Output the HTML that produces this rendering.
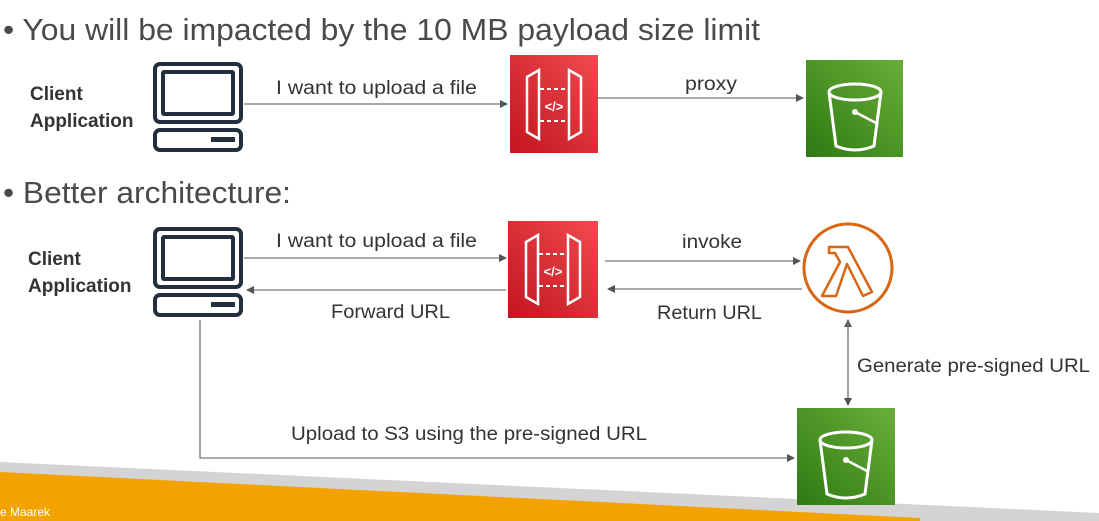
<!DOCTYPE html>
<html><head><meta charset="utf-8"><style>
body{margin:0;background:#fff;}
svg{display:block;font-family:"Liberation Sans",sans-serif;}
</style></head><body>
<svg width="1099" height="521" viewBox="0 0 1099 521" xmlns="http://www.w3.org/2000/svg">
<defs>
<marker id="ah" markerWidth="8" markerHeight="8" refX="7" refY="4" orient="auto" markerUnits="userSpaceOnUse"><path d="M0,0 L8,4 L0,8 z" fill="#555"/></marker>
<linearGradient id="red" x1="1" y1="0" x2="0" y2="1"><stop offset="0" stop-color="#f04a50"/><stop offset="1" stop-color="#c3151f"/></linearGradient>
<linearGradient id="grn" x1="1" y1="0" x2="0" y2="1"><stop offset="0" stop-color="#6aae3a"/><stop offset="1" stop-color="#2e7a12"/></linearGradient>
<g id="pc" fill="none" stroke="#232f3e" stroke-width="4">
<rect x="2" y="2" width="86" height="58" rx="5"/><rect x="10" y="10" width="70" height="42" rx="1"/>
<rect x="2" y="68" width="86" height="20" rx="5"/><rect x="58" y="75" width="24" height="5" fill="#232f3e" stroke="none"/>
</g>
<g id="api">
<path d="M18,22 L30,15 L30,84 L18,77 Z M72,22 L60,15 L60,84 L72,77 Z" fill="none" stroke="#fff" stroke-width="2.5"/>
<path d="M31,34 H59 M31,66 H59" stroke="#fff" stroke-width="2" stroke-dasharray="4,3"/>
<text x="45" y="56" font-size="13" fill="#fff" text-anchor="middle" font-weight="bold">&lt;/&gt;</text>
</g>
<g id="bucket" fill="none" stroke="#fff" stroke-width="3">
<ellipse cx="49" cy="30" rx="26" ry="8"/>
<path d="M23,30 L30,84 Q49,92 68,84 L75,30"/>
<path d="M49,50 L72,62" stroke-width="2.5"/><circle cx="49" cy="50" r="3" fill="#fff" stroke="none"/>
</g>
</defs>
<rect width="1099" height="521" fill="#fff"/>
<polygon points="0,462 1099,513 1099,521 0,521" fill="#d4d4d4"/>
<polygon points="0,472 920,518 920,521 0,521" fill="#f2a300"/>
<text x="0" y="516" font-size="12" fill="#fff">e Maarek</text>

<text x="3" y="40" font-size="31" fill="#4a4a4a" textLength="757" lengthAdjust="spacingAndGlyphs">• You will be impacted by the 10 MB payload size limit</text>
<text x="3" y="203" font-size="31" fill="#4a4a4a" textLength="288" lengthAdjust="spacingAndGlyphs">• Better architecture:</text>

<g font-weight="bold" font-size="19" fill="#333">
<text x="30" y="100">Client</text><text x="30" y="127">Application</text>
<text x="28" y="265">Client</text><text x="28" y="292">Application</text>
</g>

<use href="#pc" x="153" y="62"/>
<use href="#pc" x="153" y="227"/>

<rect x="510" y="55" width="88" height="98" fill="url(#red)"/><use href="#api" x="509" y="55"/>
<rect x="508" y="221" width="90" height="97" fill="url(#red)"/><use href="#api" x="508" y="220"/>
<rect x="806" y="60" width="97" height="97" fill="url(#grn)"/><use href="#bucket" x="806" y="62"/>
<rect x="797" y="408" width="98" height="97" fill="url(#grn)"/><use href="#bucket" x="797" y="410"/>

<circle cx="848" cy="268" r="44" fill="none" stroke="#d86613" stroke-width="3"/>
<path d="M829,247 L848,247 L872,292 L863,296 L847,264 L836,296 L822,296 L840,262 L835,253 L829,253 Z" fill="none" stroke="#d86613" stroke-width="2.5" stroke-linejoin="round"/>

<g stroke="#777" stroke-width="1.3" fill="none">
<line x1="244" y1="104" x2="507" y2="104" marker-end="url(#ah)"/>
<line x1="598" y1="98" x2="803" y2="98" marker-end="url(#ah)"/>
<line x1="244" y1="258" x2="506" y2="258" marker-end="url(#ah)"/>
<line x1="506" y1="290" x2="247" y2="290" marker-end="url(#ah)"/>
<line x1="605" y1="261" x2="800" y2="261" marker-end="url(#ah)"/>
<line x1="802" y1="289" x2="608" y2="289" marker-end="url(#ah)"/>
<line x1="848" y1="330" x2="848" y2="320" marker-end="url(#ah)"/>
<line x1="848" y1="322" x2="848" y2="405" marker-end="url(#ah)"/>
<polyline points="200,320 200,458 794,458" marker-end="url(#ah)"/>
</g>

<g font-size="19" fill="#333" lengthAdjust="spacingAndGlyphs">
<text x="276" y="94" textLength="201" lengthAdjust="spacingAndGlyphs">I want to upload a file</text>
<text x="685" y="90" textLength="52" lengthAdjust="spacingAndGlyphs">proxy</text>
<text x="276" y="247" textLength="201" lengthAdjust="spacingAndGlyphs">I want to upload a file</text>
<text x="682" y="248" textLength="60" lengthAdjust="spacingAndGlyphs">invoke</text>
<text x="331" y="318" textLength="119" lengthAdjust="spacingAndGlyphs">Forward URL</text>
<text x="657" y="319" textLength="105" lengthAdjust="spacingAndGlyphs">Return URL</text>
<text x="857" y="372" textLength="233" lengthAdjust="spacingAndGlyphs">Generate pre-signed URL</text>
<text x="291" y="440" textLength="356" lengthAdjust="spacingAndGlyphs">Upload to S3 using the pre-signed URL</text>
</g>
</svg>
</body></html>
